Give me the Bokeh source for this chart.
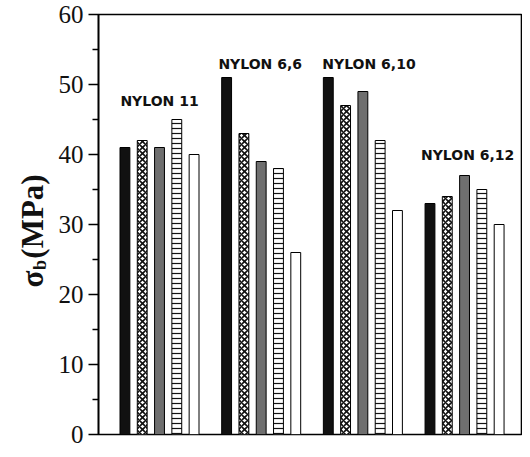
from bokeh.plotting import figure
from bokeh.layouts import row, column
from bokeh.models import Range1d, ColumnDataSource, FixedTicker
from bokeh.core.properties import value
from bokeh.embed import file_html
from bokeh.resources import INLINE

# ---- data ----
groups = ["NYLON 11", "NYLON 6,6", "NYLON 6,10", "NYLON 6,12"]
series1 = [41, 51, 51, 33]   # solid black
series2 = [42, 43, 47, 34]   # cross-hatched
series3 = [41, 39, 49, 37]   # grey
series4 = [45, 38, 42, 35]   # horizontal lines
series5 = [40, 26, 32, 30]   # white
label_y = [47.7, 53.0, 53.0, 40.0]
label_dx = [0.0, -0.01, 0.06, 0.03]
y_ticks = [0, 10, 20, 30, 40, 50, 60]
y_minor = [5, 15, 25, 35, 45, 55]
y_title_parts = ["(MPa)", "b", "σ"]   # top to bottom along the rotated title

series = [series1, series2, series3, series4, series5]
styles = [
    dict(fill_color="#111111", hatch_pattern=None),
    dict(fill_color="white", hatch_pattern="x", hatch_color="#111111", hatch_scale=6, hatch_weight=1.6),
    dict(fill_color="#6f6f6f", hatch_pattern=None),
    dict(fill_color="white", hatch_pattern="-", hatch_color="#111111", hatch_scale=5, hatch_weight=1.2),
    dict(fill_color="white", hatch_pattern=None),
]

W, H = 522, 449
LW = 55          # width of the y-title strip
TOP, BOTTOM = 14, 15

bar_step = 0.17
bar_w = 0.097

p = figure(width=W - LW, height=H, output_backend="svg", toolbar_location=None,
           x_range=Range1d(-0.6, 3.56), y_range=Range1d(0, 60),
           min_border_left=42, min_border_right=1, min_border_top=TOP, min_border_bottom=BOTTOM)

p.xaxis.visible = False
p.xgrid.visible = False
p.ygrid.visible = False
p.outline_line_color = "black"
p.outline_line_width = 1.6
p.outline_line_alpha = 1.0
p.background_fill_color = "white"
p.border_fill_color = "white"

for j, (vals, st) in enumerate(zip(series, styles)):
    xs = [i + (j - 2) * bar_step for i in range(len(groups))]
    src = ColumnDataSource(dict(x=xs, top=vals))
    kw = dict(x="x", top="top", bottom=0, width=bar_w, source=src,
              line_color="black", line_width=1.0, fill_color=st["fill_color"])
    if st["hatch_pattern"]:
        kw.update(hatch_pattern=st["hatch_pattern"], hatch_color=st["hatch_color"],
                  hatch_scale=st["hatch_scale"], hatch_weight=st["hatch_weight"])
    p.vbar(**kw)

lab_src = ColumnDataSource(dict(x=[i + d for i, d in zip(range(len(groups)), label_dx)],
                                y=label_y, t=groups))
p.text(x="x", y="y", text="t", source=lab_src, text_align="center",
       text_baseline="alphabetic", text_font=value("DejaVu Sans"),
       text_font_style="bold", text_font_size="14px", text_color="#111111")

ax = p.yaxis[0]
ax.ticker = FixedTicker(ticks=y_ticks, minor_ticks=y_minor)
ax.axis_line_width = 1.6
ax.major_tick_line_width = 1.4
ax.minor_tick_line_width = 1.4
ax.major_tick_out = 10
ax.major_tick_in = 0
ax.minor_tick_out = 6
ax.minor_tick_in = 0
ax.major_label_text_font = "Liberation Serif"
ax.major_label_text_font_size = "25px"
ax.major_label_text_color = "#111111"
ax.major_label_standoff = 5


# ---- y-axis title: a column of narrow strips whose axis labels form "σ_b(MPa)" ----
def title_strip(text, height, border_top, border_bottom, border_left, size):
    s = figure(width=LW, height=height, output_backend="svg", toolbar_location=None,
               x_range=Range1d(0, 1), y_range=Range1d(0, 1),
               min_border_left=border_left, min_border_right=0,
               min_border_top=border_top, min_border_bottom=border_bottom)
    s.xaxis.visible = False
    s.grid.visible = False
    s.outline_line_color = None
    s.background_fill_color = "white"
    s.border_fill_color = "white"
    a = s.yaxis[0]
    a.ticker = FixedTicker(ticks=[], minor_ticks=[])
    a.axis_line_color = None
    a.major_tick_out = 0
    a.major_tick_in = 0
    a.minor_tick_out = 0
    a.minor_tick_in = 0
    a.major_label_text_font_size = "0px"
    a.axis_label = text
    a.axis_label_standoff = 0
    a.axis_label_text_font = "Liberation Serif"
    a.axis_label_text_font_style = "bold"
    a.axis_label_text_font_size = f"{size}px"
    a.axis_label_text_color = "#111111"
    return s

# picture rows: "(MPa)" 174..258, "b" 258..269, "σ" 269..288
s_top = title_strip(y_title_parts[0], 258, 174, 0, 45, 31)
s_mid = title_strip(y_title_parts[1], 11, 0, 0, 49, 18)
s_bot = title_strip(y_title_parts[2], H - 269, 0, H - 288, 45, 31)
strip = column(s_top, s_mid, s_bot, spacing=0)

layout = row(strip, p, spacing=0)
open("out.html", "w").write(file_html(layout, INLINE))
